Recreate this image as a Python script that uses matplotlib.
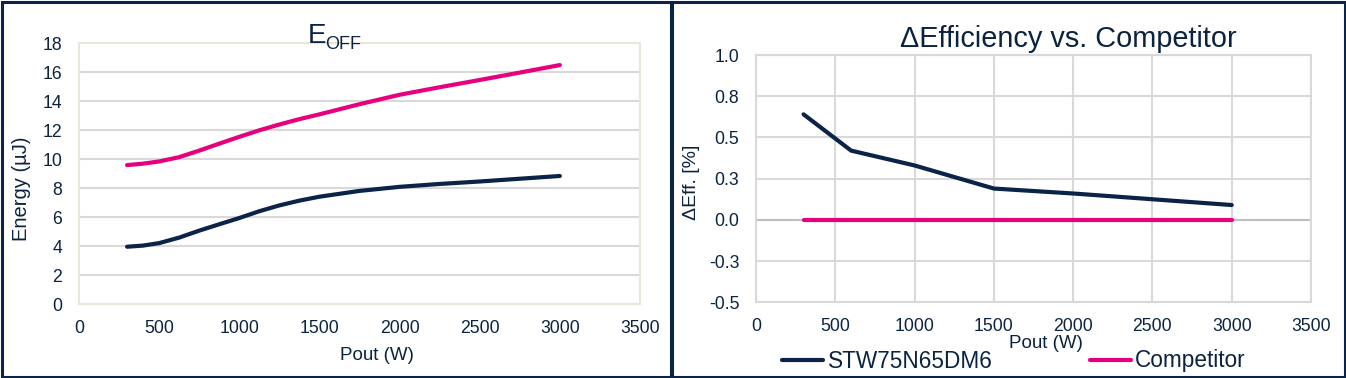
#!/usr/bin/env python3

import matplotlib
matplotlib.use('Agg')
import matplotlib.pyplot as plt
from matplotlib.patches import Rectangle

plt.rcParams['font.family'] = ['Liberation Sans', 'DejaVu Sans']

# E_OFF curves
pout_eoff = [300, 400, 500, 625, 750, 875, 1000, 1125, 1250, 1375, 1500, 1750, 2000, 2250, 2500, 2750, 3000]
eoff_stw = [3.97, 4.05, 4.22, 4.6, 5.08, 5.52, 5.95, 6.42, 6.82, 7.15, 7.42, 7.82, 8.1, 8.3, 8.47, 8.66, 8.85]
eoff_comp = [9.6, 9.7, 9.85, 10.15, 10.6, 11.08, 11.55, 12.0, 12.4, 12.77, 13.1, 13.8, 14.45, 14.97, 15.47, 15.98, 16.5]

# delta efficiency
pout_eff = [300, 600, 1000, 1500, 2000, 2500, 3000]
deff_stw = [0.64, 0.42, 0.33, 0.19, 0.16, 0.125, 0.09]
deff_comp = [0.0, 0.0, 0.0, 0.0, 0.0, 0.0, 0.0]

x_ticks = [0, 500, 1000, 1500, 2000, 2500, 3000, 3500]
eoff_ticks = [0, 2, 4, 6, 8, 10, 12, 14, 16, 18]
eff_ticks = [-0.5, -0.25, 0.0, 0.25, 0.5, 0.75, 1.0]
eff_tick_labels = ['-0.5', '-0.3', '0.0', '0.3', '0.5', '0.8', '1.0']

names = ['STW75N65DM6', 'Competitor']

NAVY = '#0b2346'
MAGENTA = '#e6007e'
TXT = '#0c2340'
GRID = '#d9d9d9'
BEIGE = '#ebe6da'

W, H = 1346, 378


def px_axes(fig, left, top, right, bottom):
    return fig.add_axes([left / W, 1 - bottom / H, (right - left) / W, (bottom - top) / H])


def style_axes(ax, spine_color):
    for s in ax.spines.values():
        s.set_color(spine_color)
        s.set_linewidth(1.5)
    ax.tick_params(length=0, labelsize=12.7, labelcolor=TXT)
    ax.tick_params(axis='y', pad=12)
    ax.tick_params(axis='x', pad=11)
    ax.set_axisbelow(True)


fig = plt.figure(figsize=(W / 100, H / 100), dpi=100)

# panel frames
fig.patches.append(Rectangle((1.5 / W, 1.5 / H), 669.5 / W, 374.5 / H, transform=fig.transFigure,
                             fill=False, edgecolor=NAVY, lw=2.2))
fig.patches.append(Rectangle((672 / W, 1.5 / H), 672.5 / W, 374.5 / H, transform=fig.transFigure,
                             fill=False, edgecolor=NAVY, lw=2.2))

# left: E_OFF
ax1 = px_axes(fig, 79, 43.3, 640, 304.3)
ax1.plot(pout_eoff, eoff_comp, color=MAGENTA, lw=3, solid_capstyle='round', solid_joinstyle='round')
ax1.plot(pout_eoff, eoff_stw, color=NAVY, lw=3, solid_capstyle='round', solid_joinstyle='round')
ax1.set_xlim(0, 3500)
ax1.set_ylim(0, 18)
ax1.set_xticks(x_ticks)
ax1.set_yticks(eoff_ticks)
ax1.yaxis.grid(True, color=GRID, lw=1.5)
style_axes(ax1, BEIGE)

fig.text(308 / W, 1 - 43 / H, 'E', fontsize=20, color=TXT, va='baseline', ha='left')
fig.text(325 / W, 1 - 49 / H, 'OFF', fontsize=13, color=TXT, va='baseline', ha='left')
fig.text(22 / W, 1 - 189 / H, 'Energy (µJ)', rotation=90, fontsize=14.5, color=TXT,
         ha='center', va='center')
fig.text(377 / W, 1 - 355 / H, 'Pout (W)', fontsize=13.5, color=TXT, ha='center', va='center')

# right: delta efficiency
ax2 = px_axes(fig, 756, 55, 1311, 302.3)
ax2.axhline(0, color='#bfbfbf', lw=1.5, zorder=1.5)
l1, = ax2.plot(pout_eff, deff_stw, color=NAVY, lw=3, solid_capstyle='round')
l2, = ax2.plot(pout_eff, deff_comp, color=MAGENTA, lw=3, solid_capstyle='round')
ax2.set_xlim(0, 3500)
ax2.set_ylim(-0.5, 1.0)
ax2.set_xticks(x_ticks)
ax2.set_yticks(eff_ticks)
ax2.set_yticklabels(eff_tick_labels)
ax2.grid(True, color=GRID, lw=1.5)
style_axes(ax2, GRID)

fig.text(900 / W, 1 - 46.7 / H, '\u0394Efficiency vs. Competitor', fontsize=20.8, color=TXT,
         ha='left', va='baseline')
fig.text(692 / W, 1 - 182 / H, '\u0394Eff. [%]', rotation=90, fontsize=14, color=TXT,
         ha='center', va='center')
fig.text(1046 / W, 1 - 344 / H, 'Pout (W)', fontsize=13.5, color=TXT, ha='center', va='center')

leg = fig.legend([l1, l2], names, loc='center', bbox_to_anchor=(1014 / W, 1 - 361 / H),
                 ncol=2, frameon=False, fontsize=16.3, handlelength=1.8, handletextpad=0.2,
                 columnspacing=4.3, borderpad=0)
for t in leg.get_texts():
    t.set_color(TXT)

fig.savefig('out.png', dpi=100)
